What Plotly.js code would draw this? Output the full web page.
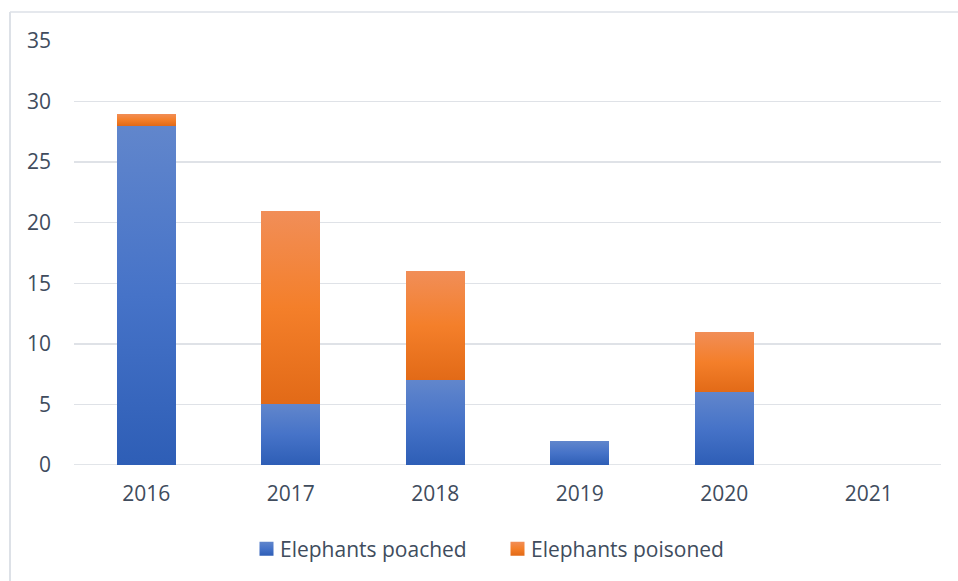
<!DOCTYPE html>
<html>
<head>
<meta charset="utf-8">
<script src="https://cdn.plot.ly/plotly-3.0.1.min.js"></script>
<style>html,body{margin:0;padding:0;background:#fff;}#chart{width:958px;height:581px;}</style>
</head>
<body>
<div id="chart"></div>
<script>
const years = ['2016', '2017', '2018', '2019', '2020', '2021'];
const poached = [28, 5, 7, 2, 6, 0];
const poisoned = [1, 16, 9, 0, 5, 0];
const yTicks = [0, 5, 10, 15, 20, 25, 30, 35];

const textColor = '#404c5d';
const fontFam = 'Open Sans, Liberation Sans, sans-serif';
const fs = 21;

const traces = [
  {type: 'bar', name: 'Elephants poached', x: years, y: poached,
   marker: {color: '#4472c4', line: {width: 0}}, hoverinfo: 'x+y+name'},
  {type: 'bar', name: 'Elephants poisoned', x: years, y: poisoned,
   marker: {color: '#ed7d31', line: {width: 0}}, hoverinfo: 'x+y+name'}
];

const L = 74, R = 17, T = 41, B = 116, W = 958, H = 581;
const pw = W - L - R, ph = H - T - B;
const px = v => (v - L) / pw;
const py = v => (H - B - v) / ph;

const layout = {
  width: W, height: H,
  margin: {l: L, r: R, t: T, b: B, pad: 0},
  paper_bgcolor: '#ffffff', plot_bgcolor: '#ffffff',
  barmode: 'stack', bargap: 0.59,
  font: {family: fontFam, size: fs, color: textColor},
  showlegend: true,
  legend: {orientation: 'h', x: px(240), xanchor: 'left', y: py(549), yanchor: 'middle',
           font: {family: fontFam, size: fs, color: textColor}, itemwidth: 30, traceorder: 'normal',
           entrywidth: 206, entrywidthmode: 'pixels'},
  xaxis: {type: 'category', showgrid: false, zeroline: false, showline: false,
          ticks: '', tickfont: {family: fontFam, size: fs, color: textColor}, ticklabelstandoff: 14},
  yaxis: {range: [0, 35], tickvals: yTicks, ticktext: yTicks.map(String), showgrid: true,
          gridcolor: '#dfe2e7', gridwidth: 1.5, zeroline: false, showline: false, ticks: '',
          tickfont: {family: fontFam, size: fs, color: textColor}, ticklabelstandoff: 22, fixedrange: true},
  shapes: [
    {type: 'line', xref: 'paper', yref: 'paper', x0: px(10), x1: px(10), y0: py(12), y1: py(600),
     line: {color: '#dde1e7', width: 2}},
    {type: 'line', xref: 'paper', yref: 'paper', x0: px(10), x1: px(970), y0: py(12), y1: py(12),
     line: {color: '#dde1e7', width: 1.5}},
    {type: 'line', xref: 'paper', yref: 'y', x0: 0, x1: 1, y0: 0, y1: 0,
     line: {color: '#d9dce2', width: 1.5}, layer: 'below'}
  ]
};

Plotly.newPlot('chart', traces, layout, {displayModeBar: false, staticPlot: true}).then(gd => {
  const svg = gd.querySelector('svg.main-svg');
  const ns = 'http://www.w3.org/2000/svg';
  let defs = svg.querySelector('defs');
  if (!defs) { defs = document.createElementNS(ns, 'defs'); svg.insertBefore(defs, svg.firstChild); }
  const mk = (id, stops) => {
    const g = document.createElementNS(ns, 'linearGradient');
    g.setAttribute('id', id);
    g.setAttribute('x1', '0'); g.setAttribute('y1', '0'); g.setAttribute('x2', '0'); g.setAttribute('y2', '1');
    stops.forEach(([o, c]) => {
      const s = document.createElementNS(ns, 'stop');
      s.setAttribute('offset', o); s.setAttribute('stop-color', c);
      g.appendChild(s);
    });
    defs.appendChild(g);
  };
  mk('gBlue', [['0', '#6186cc'], ['0.5', '#4673c8'], ['1', '#2e5eb6']]);
  mk('gOrange', [['0', '#f18e58'], ['0.5', '#f47f2a'], ['1', '#e26a17']]);
  const ids = ['gBlue', 'gOrange'];
  gd.querySelectorAll('.barlayer .trace').forEach((tr, i) => {
    tr.querySelectorAll('path').forEach(p => { p.style.fill = 'url(#' + ids[i] + ')'; });
  });
  gd.querySelectorAll('.legend .traces').forEach((tr, i) => {
    tr.querySelectorAll('.legendpoints path').forEach(p => {
      p.setAttribute('d', 'M13.5,7H-0.5V-7H13.5Z');
      p.style.fill = 'url(#' + ids[i] + ')';
    });
  });
});
</script>
</body>
</html>
